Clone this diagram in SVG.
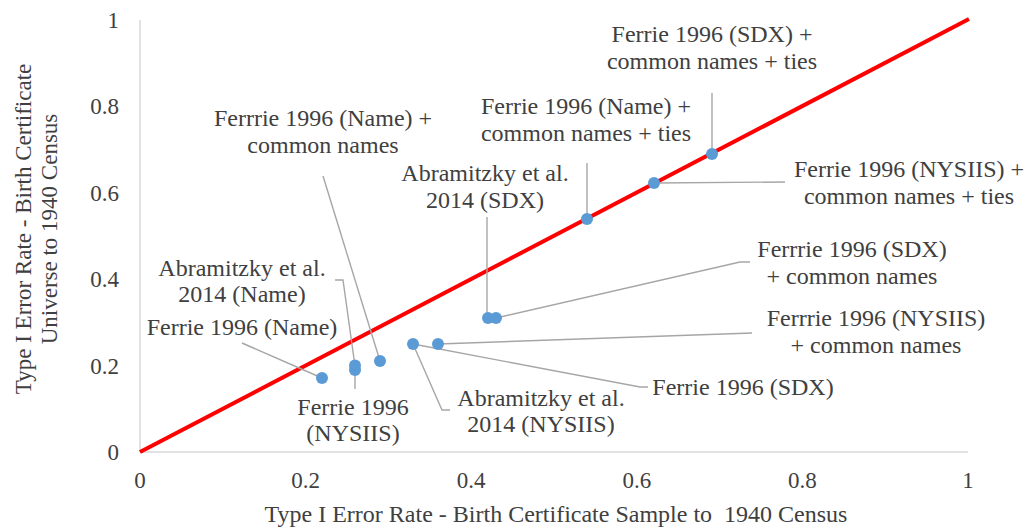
<svg xmlns="http://www.w3.org/2000/svg" width="1031" height="531" viewBox="0 0 1031 531">
<style>
text{font-family:"Liberation Serif","Times New Roman",serif;fill:#404040}
.lbl{font-size:24px;text-anchor:middle}
.tk{font-size:23px}
.ax{stroke:#D9D9D9;stroke-width:1.5;fill:none}
.lead{stroke:#A6A6A6;stroke-width:1.4;fill:none}
.dot{fill:#5B9BD5}
</style>
<rect width="1031" height="531" fill="#fff"/>
<g id="axes">
<line class="ax" x1="140" y1="20" x2="140" y2="452"/>
<line class="ax" x1="140" y1="452" x2="968" y2="452"/>
<g text-anchor="end">
<text class="tk" x="119" y="28">1</text>
<text class="tk" x="119" y="114">0.8</text>
<text class="tk" x="119" y="201">0.6</text>
<text class="tk" x="119" y="287">0.4</text>
<text class="tk" x="119" y="374">0.2</text>
<text class="tk" x="119" y="460">0</text>
</g>
<g text-anchor="middle">
<text class="tk" x="140" y="488">0</text>
<text class="tk" x="305.6" y="488">0.2</text>
<text class="tk" x="471.2" y="488">0.4</text>
<text class="tk" x="636.8" y="488">0.6</text>
<text class="tk" x="802.4" y="488">0.8</text>
<text class="tk" x="968" y="488">1</text>
</g>
<text x="556" y="522" font-size="24" text-anchor="middle" xml:space="preserve">Type I Error Rate - Birth Certificate Sample to  1940 Census</text>
<g transform="translate(31,229) rotate(-90)">
<text x="0" y="0" font-size="23" text-anchor="middle">Type I Error Rate - Birth Certificate</text>
<text x="0" y="26" font-size="23" text-anchor="middle">Universe to 1940 Census</text>
</g>
</g>
<g id="diagonal">
<line x1="140" y1="452" x2="969" y2="19" stroke="#FF0000" stroke-width="4"/>
</g>
<g id="connectors">
<polyline class="lead" points="242,343 322,378"/>
<polyline class="lead" points="335,280 343,280 355,366"/>
<polyline class="lead" points="355,389 355,370"/>
<polyline class="lead" points="323,176 380,361"/>
<polyline class="lead" points="450,410 442,410 413,344"/>
<polyline class="lead" points="648,387 640,387 413,344"/>
<polyline class="lead" points="750,262 740,262 496,318"/>
<polyline class="lead" points="752,333 438,344"/>
<polyline class="lead" points="487,217 487,318"/>
<polyline class="lead" points="587,163 587,219"/>
<polyline class="lead" points="712,93 712,154"/>
<polyline class="lead" points="785,182 654,183"/>
</g>
<g id="points">
<circle class="dot" cx="322" cy="378" r="6"/>
<circle class="dot" cx="355" cy="370" r="6"/>
<circle class="dot" cx="355" cy="365.6" r="6"/>
<circle class="dot" cx="380" cy="361" r="6"/>
<circle class="dot" cx="413" cy="344" r="6"/>
<circle class="dot" cx="438" cy="344" r="6"/>
<circle class="dot" cx="488" cy="318" r="6"/>
<circle class="dot" cx="496" cy="318" r="6"/>
<circle class="dot" cx="587" cy="219" r="6"/>
<circle class="dot" cx="654" cy="183" r="6"/>
<circle class="dot" cx="712" cy="154" r="6"/>
</g>
<g id="lbl-ferrie-name"><text class="lbl" x="242" y="335">Ferrie 1996 (Name)</text></g>
<g id="lbl-abr-name"><text class="lbl" x="242" y="276">Abramitzky et al.</text><text class="lbl" x="242" y="302">2014 (Name)</text></g>
<g id="lbl-ferrie-nysiis"><text class="lbl" x="353" y="415">Ferrie 1996</text><text class="lbl" x="353" y="441">(NYSIIS)</text></g>
<g id="lbl-ferrrie-name-common"><text class="lbl" x="323" y="126">Ferrrie 1996 (Name) +</text><text class="lbl" x="323" y="153">common names</text></g>
<g id="lbl-abr-nysiis"><text class="lbl" x="541" y="406">Abramitzky et al.</text><text class="lbl" x="541" y="432">2014 (NYSIIS)</text></g>
<g id="lbl-ferrie-sdx"><text class="lbl" x="743" y="395">Ferrie 1996 (SDX)</text></g>
<g id="lbl-ferrrie-sdx-common"><text class="lbl" x="852" y="257">Ferrrie 1996 (SDX)</text><text class="lbl" x="852" y="284">+ common names</text></g>
<g id="lbl-ferrrie-nysiis-common"><text class="lbl" x="876" y="326">Ferrrie 1996 (NYSIIS)</text><text class="lbl" x="876" y="353">+ common names</text></g>
<g id="lbl-abr-sdx"><text class="lbl" x="485" y="181">Abramitzky et al.</text><text class="lbl" x="485" y="208">2014 (SDX)</text></g>
<g id="lbl-ferrie-name-ties"><text class="lbl" x="586" y="114">Ferrie 1996 (Name) +</text><text class="lbl" x="586" y="141">common names + ties</text></g>
<g id="lbl-ferrie-sdx-ties"><text class="lbl" x="712" y="42">Ferrie 1996 (SDX) +</text><text class="lbl" x="712" y="69">common names + ties</text></g>
<g id="lbl-ferrie-nysiis-ties"><text class="lbl" x="909" y="177">Ferrie 1996 (NYSIIS) +</text><text class="lbl" x="909" y="204">common names + ties</text></g>
</svg>
